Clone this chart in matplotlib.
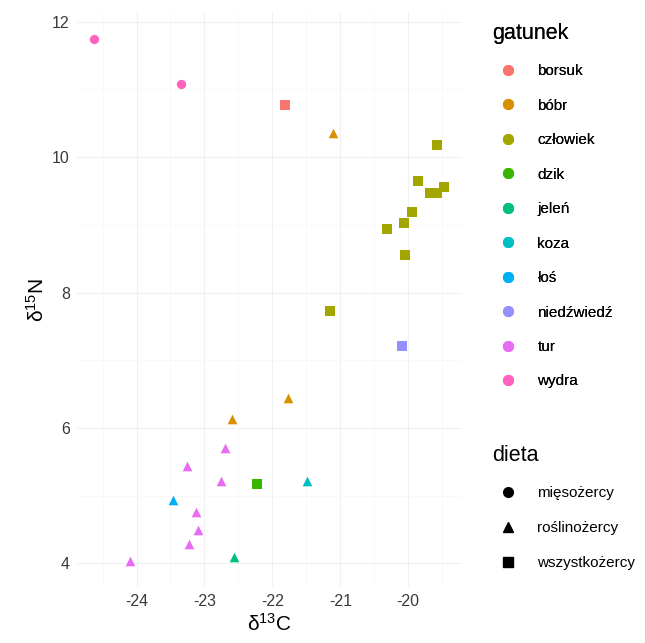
import numpy as np
import matplotlib.pyplot as plt
from matplotlib.lines import Line2D

plt.rcParams['font.family'] = ['Liberation Sans', 'DejaVu Sans']
plt.rcParams['axes.unicode_minus'] = False
plt.rcParams['mathtext.default'] = 'regular'

# dane: izotopy węgla i azotu
gatunki = ["borsuk", "bóbr", "człowiek", "dzik", "jeleń", "koza", "łoś", "niedźwiedź", "tur", "wydra"]
kolory = ["#F8766D", "#D89000", "#A3A500", "#39B600", "#00BF7D", "#00BFC4", "#00B0F6", "#9590FF", "#E76BF3", "#FF62BC"]
diety = ["mięsożercy", "roślinożercy", "wszystkożercy"]
markery = ["o", "^", "s"]

d13C = [-24.62, -23.34, -21.82, -21.11, -19.58, -19.86, -19.68, -19.58, -19.47, -19.94,
        -20.06, -20.31, -20.05, -21.15, -20.09, -21.77, -22.60, -22.69, -23.26, -22.75,
        -23.13, -23.10, -23.22, -24.10, -23.47, -22.23, -21.49, -22.57]
d15N = [11.75, 11.08, 10.77, 10.36, 10.18, 9.65, 9.47, 9.47, 9.56, 9.19,
        9.03, 8.94, 8.55, 7.72, 7.21, 6.44, 6.13, 5.70, 5.44, 5.22,
        4.76, 4.49, 4.29, 4.04, 4.93, 5.17, 5.21, 4.10]
gatunek = ["wydra", "wydra", "borsuk", "bóbr", "człowiek", "człowiek", "człowiek", "człowiek", "człowiek", "człowiek",
           "człowiek", "człowiek", "człowiek", "człowiek", "niedźwiedź", "bóbr", "bóbr", "tur", "tur", "tur",
           "tur", "tur", "tur", "tur", "łoś", "dzik", "koza", "jeleń"]
dieta = ["mięsożercy", "mięsożercy", "wszystkożercy", "roślinożercy", "wszystkożercy", "wszystkożercy",
         "wszystkożercy", "wszystkożercy", "wszystkożercy", "wszystkożercy", "wszystkożercy", "wszystkożercy",
         "wszystkożercy", "wszystkożercy", "wszystkożercy", "roślinożercy", "roślinożercy", "roślinożercy",
         "roślinożercy", "roślinożercy", "roślinożercy", "roślinożercy", "roślinożercy", "roślinożercy",
         "roślinożercy", "wszystkożercy", "roślinożercy", "roślinożercy"]

fig = plt.figure(figsize=(6.45, 6.43), dpi=100)
ax = fig.add_axes([0.119, 0.087, 0.597, 0.894])

kolor_map = dict(zip(gatunki, kolory))
marker_map = dict(zip(diety, markery))

for x, y, g, d in zip(d13C, d15N, gatunek, dieta):
    ax.scatter(x, y, s=48 if d != "mięsożercy" else 45, c=kolor_map[g], marker=marker_map[d],
               linewidths=0, zorder=3)

ax.set_xlim(-24.88, -19.21)
ax.set_ylim(3.65, 12.14)
ax.set_xticks([-24, -23, -22, -21, -20])
ax.set_yticks([4, 6, 8, 10, 12])
ax.set_xticks(np.arange(-24.5, -19.0, 1.0), minor=True)
ax.set_yticks([5, 7, 9, 11], minor=True)
ax.grid(True, which="major", color="#f0f0f0", linewidth=0.8, zorder=0)
ax.grid(True, which="minor", color="#f7f7f7", linewidth=0.5, zorder=0)
ax.set_axisbelow(True)
for sp in ax.spines.values():
    sp.set_visible(False)
ax.tick_params(which="both", length=0, labelsize=11.5, labelcolor="#3a3a3a", pad=5)

ax.set_xlabel(r"δ$^{13}$C", fontsize=15, labelpad=3)
ax.set_ylabel(r"δ$^{15}$N", fontsize=15, labelpad=3)

# legenda gatunków
uchwyty_g = [Line2D([], [], marker="o", linestyle="", color=k, markersize=7) for k in kolory]
leg1 = fig.legend(uchwyty_g, gatunki, title="gatunek", loc="upper left",
                  bbox_to_anchor=(0.742, 0.986), frameon=False, fontsize=11,
                  title_fontsize=15.5, labelspacing=1.34, handletextpad=0.95, alignment="left")
fig.add_artist(leg1)

# legenda diety
uchwyty_d = [Line2D([], [], marker=m, linestyle="", color="black", markersize=7) for m in markery]
fig.legend(uchwyty_d, diety, title="dieta", loc="upper left",
           bbox_to_anchor=(0.742, 0.33), frameon=False, fontsize=11,
           title_fontsize=15.5, labelspacing=1.37, handletextpad=0.95, alignment="left")

fig.savefig("out.png", dpi=100)
